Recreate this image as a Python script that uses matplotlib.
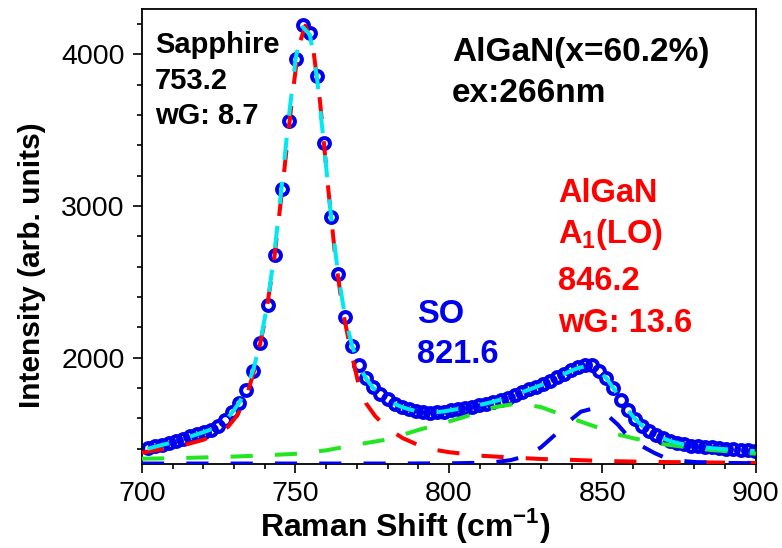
import matplotlib
matplotlib.use("Agg")
import matplotlib.pyplot as plt

plt.rcParams['font.family'] = ['Liberation Sans', 'DejaVu Sans']
plt.rcParams['mathtext.fontset'] = 'custom'
plt.rcParams['mathtext.rm'] = 'Liberation Sans'
plt.rcParams['mathtext.bf'] = 'Liberation Sans:bold'

# measured spectrum (open circles)
shift = [701.8, 704.1, 706.4, 708.7, 711.0, 713.3, 715.6, 717.9, 720.2, 722.5,
         724.8, 727.1, 729.4, 731.7, 734.0, 736.3, 738.6, 740.9, 743.2, 745.5,
         747.8, 750.1, 752.4, 754.7, 757.0, 759.3, 761.6, 763.9, 766.2, 768.5,
         770.8, 773.1, 775.4, 777.7, 780.0, 782.3, 784.6, 786.9, 789.2, 791.5,
         793.8, 796.1, 798.4, 800.7, 803.0, 805.3, 807.6, 809.9, 812.2, 814.5,
         816.8, 819.1, 821.4, 823.7, 826.0, 828.3, 830.6, 832.9, 835.2, 837.5,
         839.8, 842.1, 844.4, 846.7, 849.0, 851.3, 853.6, 855.9, 858.2, 860.5,
         862.8, 865.1, 867.4, 869.7, 872.0, 874.3, 876.6, 878.9, 881.2, 883.5,
         885.8, 888.1, 890.4, 892.7, 895.0, 897.3, 899.6]
intensity = [1403, 1416, 1427, 1437, 1450, 1465, 1482, 1497, 1510, 1525,
             1550, 1590, 1645, 1705, 1790, 1915, 2100, 2345, 2678, 3110,
             3560, 3967, 4197, 4143, 3860, 3415, 2930, 2550, 2270, 2080,
             1950, 1870, 1810, 1763, 1728, 1697, 1678, 1660, 1648, 1643,
             1639, 1640, 1646, 1655, 1664, 1668, 1678, 1688, 1698, 1710,
             1723, 1736, 1755, 1773, 1792, 1808, 1825, 1845, 1872, 1895,
             1920, 1938, 1950, 1950, 1915, 1868, 1802, 1722, 1653, 1597,
             1552, 1518, 1489, 1469, 1450, 1438, 1429, 1421, 1417, 1413,
             1409, 1405, 1401, 1398, 1395, 1390, 1385]

# cumulative fit (cyan)
fit_total = [1400, 1413, 1425, 1436, 1449, 1464, 1480, 1496, 1511, 1528,
             1550, 1585, 1640, 1705, 1795, 1925, 2110, 2360, 2700, 3130,
             3580, 3980, 4180, 4130, 3850, 3400, 2930, 2550, 2265, 2075,
             1945, 1860, 1800, 1755, 1722, 1696, 1676, 1661, 1650, 1644,
             1641, 1642, 1647, 1655, 1663, 1670, 1679, 1689, 1699, 1711,
             1724, 1738, 1755, 1772, 1790, 1807, 1825, 1846, 1870, 1893,
             1915, 1933, 1944, 1940, 1912, 1865, 1800, 1725, 1658, 1600,
             1555, 1520, 1492, 1470, 1452, 1439, 1429, 1421, 1414, 1409,
             1404, 1400, 1397, 1394, 1391, 1388, 1385]

# sapphire component (red)
sapph_x = [700, 705, 710, 715, 720, 725, 728, 731, 734, 737, 740, 743, 746, 749,
           751, 753.2, 755.5, 758, 760.5, 763, 765.5, 768, 770.5, 773, 776, 780,
           785, 790, 795, 800, 810, 820, 830, 840, 850, 860, 870, 880, 890, 900]
sapph_y = [1375, 1393, 1412, 1432, 1460, 1505, 1545, 1620, 1740, 1950, 2240, 2640,
           3170, 3730, 4050, 4190, 4080, 3690, 3150, 2660, 2300, 2050, 1830, 1700,
           1615, 1535, 1470, 1425, 1395, 1378, 1355, 1343, 1333, 1327, 1320, 1316,
           1313, 1311, 1309, 1307]

# SO component (green)
so_x = [700, 710, 720, 730, 740, 750, 760, 770, 780, 790, 800, 805, 810, 815, 820,
        823, 826, 830, 835, 840, 845, 850, 855, 860, 865, 870, 875, 880, 885, 890,
        895, 900]
so_y = [1335, 1338, 1343, 1349, 1357, 1367, 1390, 1428, 1462, 1524, 1580, 1610,
        1645, 1675, 1692, 1695, 1688, 1675, 1638, 1600, 1565, 1530, 1495, 1470,
        1450, 1430, 1417, 1405, 1393, 1385, 1375, 1368]

# AlGaN A1(LO) component (blue)
lo_x = [700, 720, 740, 760, 780, 800, 810, 815, 820, 825, 830, 835, 839, 843,
        846.2, 849, 852, 855, 858, 861, 864, 867, 870, 875, 880, 890, 900]
lo_y = [1303, 1303, 1303, 1303, 1303, 1304, 1308, 1313, 1325, 1352, 1410, 1500,
        1580, 1645, 1662, 1655, 1615, 1560, 1490, 1440, 1405, 1372, 1345, 1322,
        1313, 1307, 1305]

W, H = 782, 548
fig = plt.figure(figsize=(W / 100, H / 100), dpi=100)
ax = fig.add_axes([0.1816, 0.1533, 0.785, 0.8303])

dash = (0, (5.5, 5.5))
ax.plot(shift, intensity, 'o', mfc='none', mec='#0000f0', ms=7.8, mew=2.9, zorder=2)
ax.plot(sapph_x, sapph_y, color='#ff0000', lw=2.9, ls=dash, zorder=3)
ax.plot(so_x, so_y, color='#22e622', lw=2.9, ls=dash, zorder=3)
ax.plot(lo_x, lo_y, color='#0000f0', lw=2.9, ls=dash, zorder=3)
ax.plot(shift, fit_total, color='#00e8f0', lw=2.9, ls=dash, zorder=4)

ax.set_xlim(700, 900)
ax.set_ylim(1300, 4300)
ax.set_xticks([700, 750, 800, 850, 900])
ax.set_xticks(range(700, 901, 10), minor=True)
ax.set_yticks([2000, 3000, 4000])
ax.set_yticks(range(1400, 4300, 200), minor=True)
ax.tick_params(which='major', direction='out', length=6.5, width=1.2,
               labelsize=20.5, pad=6)
ax.tick_params(which='minor', direction='out', length=3.5, width=1.2)
for s in ax.spines.values():
    s.set_linewidth(1.3)

# axis titles placed like in the original (off-centre)
fig.text(405 / W, 1 - 536 / H, r'Raman Shift (cm$^{\mathbf{-1}}$)', fontsize=23,
         fontweight='bold', ha='center', va='baseline')
fig.text(32 / W, 1 - 265 / H, 'Intensity (arb. units)', fontsize=21.5,
         fontweight='bold', rotation=90, ha='center', va='center')

labels = [
    ('Sapphire', 155, 53, 'black', 21),
    ('753.2', 155, 89, 'black', 21),
    ('wG: 8.7', 155, 124, 'black', 21),
    ('AlGaN(x=60.2%)', 452, 61, 'black', 24),
    ('ex:266nm', 452, 102, 'black', 24),
    ('AlGaN', 558, 202, '#ff0000', 23.5),
    (r'A$_\mathbf{1}$(LO)', 558, 243, '#ff0000', 23.5),
    ('846.2', 558, 290, '#ff0000', 23.5),
    ('wG: 13.6', 558, 332, '#ff0000', 23.5),
    ('SO', 417, 323, '#0000f0', 23.5),
    ('821.6', 417, 363, '#0000f0', 23.5),
]
for txt, px, py, col, fs in labels:
    fig.text(px / W, 1 - py / H, txt, color=col, fontsize=fs,
             fontweight='bold', ha='left', va='baseline')

fig.savefig('out.png', dpi=100)
